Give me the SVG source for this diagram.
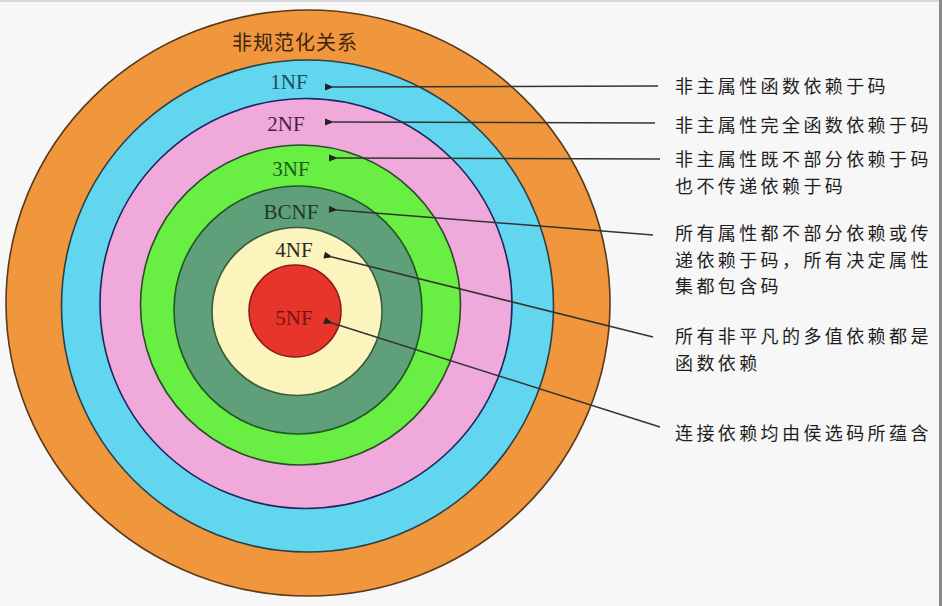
<svg xmlns="http://www.w3.org/2000/svg" width="942" height="606" viewBox="0 0 942 606">
<style>
.nf{font-family:"Liberation Serif","Times New Roman",serif;font-size:21px;text-anchor:middle}
.cn{font-family:"Noto Sans CJK SC","Noto Sans",sans-serif;font-size:18px;letter-spacing:3.4px;fill:#1e1e1e}
.ring{stroke-width:1.6}
.conn{fill:none;stroke:#333;stroke-width:1.5}
</style>
<defs>
<marker id="ah" markerUnits="userSpaceOnUse" markerWidth="10" markerHeight="8" refX="1" refY="4" orient="auto-start-reverse">
<path d="M0,4 L9,0.5 L9,7.5 Z" fill="#222"/>
</marker>
</defs>
<rect x="0" y="0" width="942" height="606" fill="#f7f7f7"/>
<rect x="0" y="0" width="942" height="2" fill="#d8d8d8"/>
<rect x="939" y="0" width="3" height="606" fill="#8a8a8a"/>

<g id="node-unnormalized">
<ellipse class="ring" cx="308" cy="303" rx="302" ry="293" fill="#f0963c" stroke="#5a3a1a"/>
<text x="295" y="50" style="font-family:'Noto Sans CJK SC','Noto Sans',sans-serif;font-size:20px;letter-spacing:1px;text-anchor:middle;fill:#3e2410">非规范化关系</text>
</g>
<g id="node-1nf">
<circle class="ring" cx="307.5" cy="306" r="246" fill="#62d6ef" stroke="#2a3f48"/>
<text class="nf" x="289" y="89" fill="#1c4a5c">1NF</text>
</g>
<g id="node-2nf">
<ellipse class="ring" cx="306" cy="303.5" rx="206" ry="205" fill="#efaadb" stroke="#1c2460"/>
<text class="nf" x="286" y="131" fill="#4a1c48">2NF</text>
</g>
<g id="node-3nf">
<circle class="ring" cx="300.5" cy="305" r="160" fill="#69ee44" stroke="#2e4a2a"/>
<text class="nf" x="291" y="176" fill="#1d5a1d">3NF</text>
</g>
<g id="node-bcnf">
<circle class="ring" cx="298" cy="310" r="124" fill="#5f9f7a" stroke="#1e5a1e" stroke-width="2"/>
<text class="nf" x="291" y="219" fill="#1e3a28">BCNF</text>
</g>
<g id="node-4nf">
<ellipse class="ring" cx="297" cy="311.5" rx="85" ry="84" fill="#fbf5bd" stroke="#3a5a3a"/>
<text class="nf" x="294" y="257" fill="#2a2a2a">4NF</text>
</g>
<g id="node-5nf">
<circle class="ring" cx="295" cy="311" r="46" fill="#e8352b" stroke="#8a1a1a"/>
<text class="nf" x="294" y="325" fill="#7a1212">5NF</text>
</g>

<g id="connectors">
<path class="conn" d="M658,86 L333,87" marker-end="url(#ah)"/>
<path class="conn" d="M655,123 L333,122" marker-end="url(#ah)"/>
<path class="conn" d="M660,159 L337,158" marker-end="url(#ah)"/>
<path class="conn" d="M653,235 L337,210" marker-end="url(#ah)"/>
<path class="conn" d="M653,337 L332,257" marker-end="url(#ah)"/>
<path class="conn" d="M660,427 L332,323" marker-end="url(#ah)"/>
</g>

<g id="desc-1nf"><text class="cn" x="675" y="93">非主属性函数依赖于码</text></g>
<g id="desc-2nf"><text class="cn" x="675" y="132">非主属性完全函数依赖于码</text></g>
<g id="desc-3nf">
<text class="cn" x="675" y="166">非主属性既不部分依赖于码</text>
<text class="cn" x="675" y="193">也不传递依赖于码</text>
</g>
<g id="desc-bcnf">
<text class="cn" x="675" y="240">所有属性都不部分依赖或传</text>
<text class="cn" x="675" y="266.5">递依赖于码，所有决定属性</text>
<text class="cn" x="675" y="293">集都包含码</text>
</g>
<g id="desc-4nf">
<text class="cn" x="675" y="343">所有非平凡的多值依赖都是</text>
<text class="cn" x="675" y="370">函数依赖</text>
</g>
<g id="desc-5nf"><text class="cn" x="675" y="439.5">连接依赖均由侯选码所蕴含</text></g>
</svg>
